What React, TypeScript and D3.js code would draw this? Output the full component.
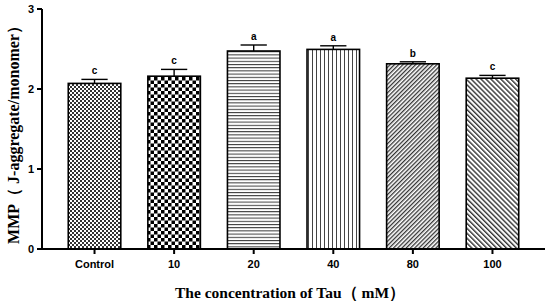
import React from "react";
import * as d3 from "d3";

const categories = ["Control", "10", "20", "40", "80", "100"];
const means = [2.07, 2.16, 2.475, 2.495, 2.315, 2.135];
const errors = [0.05, 0.085, 0.075, 0.045, 0.025, 0.035];
const letters = ["c", "c", "a", "a", "b", "c"];
const yTicks = [0, 1, 2, 3];
const patternIds = ["pCtrl", "p10", "p20", "p40", "p80", "p100"];

const W = 550;
const H = 304;
const left = 42;
const right = 545;
const top = 9;
const bottom = 249;

export default function App() {
  const x = d3
    .scaleBand<string>()
    .domain(categories)
    .range([left, right])
    .paddingInner(0.34)
    .paddingOuter(0.33);
  const y = d3.scaleLinear().domain([0, 3]).range([bottom, top]);
  const bw = x.bandwidth();
  const capW = bw / 2;
  const sans = "'Liberation Sans', Arial, sans-serif";
  const serif = "'Liberation Serif', 'Times New Roman', serif";

  return (
    <svg
      width={W}
      height={H}
      style={{ position: "absolute", left: 0, top: 0, background: "#fff" }}
    >
      <defs>
        <pattern id="pCtrl" width={4} height={4} patternUnits="userSpaceOnUse">
          <rect width={4} height={4} fill="#fff" />
          <rect width={2} height={2} fill="#333" />
          <rect x={2} y={2} width={2} height={2} fill="#333" />
        </pattern>
        <pattern id="p10" width={7} height={7} patternUnits="userSpaceOnUse">
          <rect width={7} height={7} fill="#fff" />
          <rect width={3.5} height={3.5} fill="#000" />
          <rect x={3.5} y={3.5} width={3.5} height={3.5} fill="#000" />
        </pattern>
        <pattern id="p20" width={6} height={3.2} patternUnits="userSpaceOnUse">
          <rect width={6} height={3.2} fill="#fff" />
          <rect y={0} width={6} height={1} fill="#333" />
        </pattern>
        <pattern id="p40" width={4} height={6} patternUnits="userSpaceOnUse">
          <rect width={4} height={6} fill="#fff" />
          <rect x={0} width={1} height={6} fill="#444" />
        </pattern>
        <pattern
          id="p80"
          width={3}
          height={3}
          patternUnits="userSpaceOnUse"
          patternTransform="rotate(45)"
        >
          <rect width={3} height={3} fill="#fff" />
          <rect width={1.3} height={3} fill="#333" />
        </pattern>
        <pattern
          id="p100"
          width={3.5}
          height={3.5}
          patternUnits="userSpaceOnUse"
          patternTransform="rotate(-45)"
        >
          <rect width={3.5} height={3.5} fill="#fff" />
          <rect width={1.4} height={3.5} fill="#333" />
        </pattern>
      </defs>

      {categories.map((c, i) => {
        const x0 = x(c)!;
        const cx = x0 + bw / 2;
        const yTop = y(means[i]);
        const yErr = y(means[i] + errors[i]);
        return (
          <g key={c}>
            <rect
              x={x0}
              y={yTop}
              width={bw}
              height={bottom - yTop}
              fill={`url(#${patternIds[i]})`}
              stroke="#000"
              strokeWidth={1.6}
            />
            <line x1={cx} x2={cx} y1={yTop} y2={yErr} stroke="#000" strokeWidth={1.4} />
            <line
              x1={cx - capW / 2}
              x2={cx + capW / 2}
              y1={yErr}
              y2={yErr}
              stroke="#000"
              strokeWidth={1.4}
            />
            <text
              x={cx}
              y={yErr - 5}
              textAnchor="middle"
              fontFamily={sans}
              fontWeight="bold"
              fontSize={10}
            >
              {letters[i]}
            </text>
          </g>
        );
      })}

      {/* y axis */}
      <line x1={left} x2={left} y1={top} y2={bottom + 1} stroke="#000" strokeWidth={2} />
      {yTicks.map((t) => (
        <g key={t}>
          <line x1={left - 5} x2={left} y1={y(t)} y2={y(t)} stroke="#000" strokeWidth={2} />
          <text
            x={left - 8}
            y={y(t)}
            dy="0.35em"
            textAnchor="end"
            fontFamily={sans}
            fontWeight="bold"
            fontSize={11}
          >
            {t}
          </text>
        </g>
      ))}

      {/* x axis */}
      <line x1={left - 5} x2={right} y1={bottom} y2={bottom} stroke="#000" strokeWidth={2} />
      {categories.map((c) => {
        const cx = x(c)! + bw / 2;
        return (
          <g key={c}>
            <line x1={cx} x2={cx} y1={bottom} y2={bottom + 5} stroke="#000" strokeWidth={2} />
            <text
              x={cx}
              y={bottom + 19}
              textAnchor="middle"
              fontFamily={sans}
              fontWeight="bold"
              fontSize={11}
            >
              {c}
            </text>
          </g>
        );
      })}

      <text
        x={290}
        y={298}
        textAnchor="middle"
        fontFamily={serif}
        fontWeight="bold"
        fontSize={15.5}
      >
        The concentration of Tau（ mM）
      </text>
      <text
        transform={`translate(19, ${(top + bottom) / 2 + 2}) rotate(-90)`}
        textAnchor="middle"
        fontFamily={serif}
        fontWeight="bold"
        fontSize={16}
      >
        MMP（ J-aggregate/monomer）
      </text>
    </svg>
  );
}
